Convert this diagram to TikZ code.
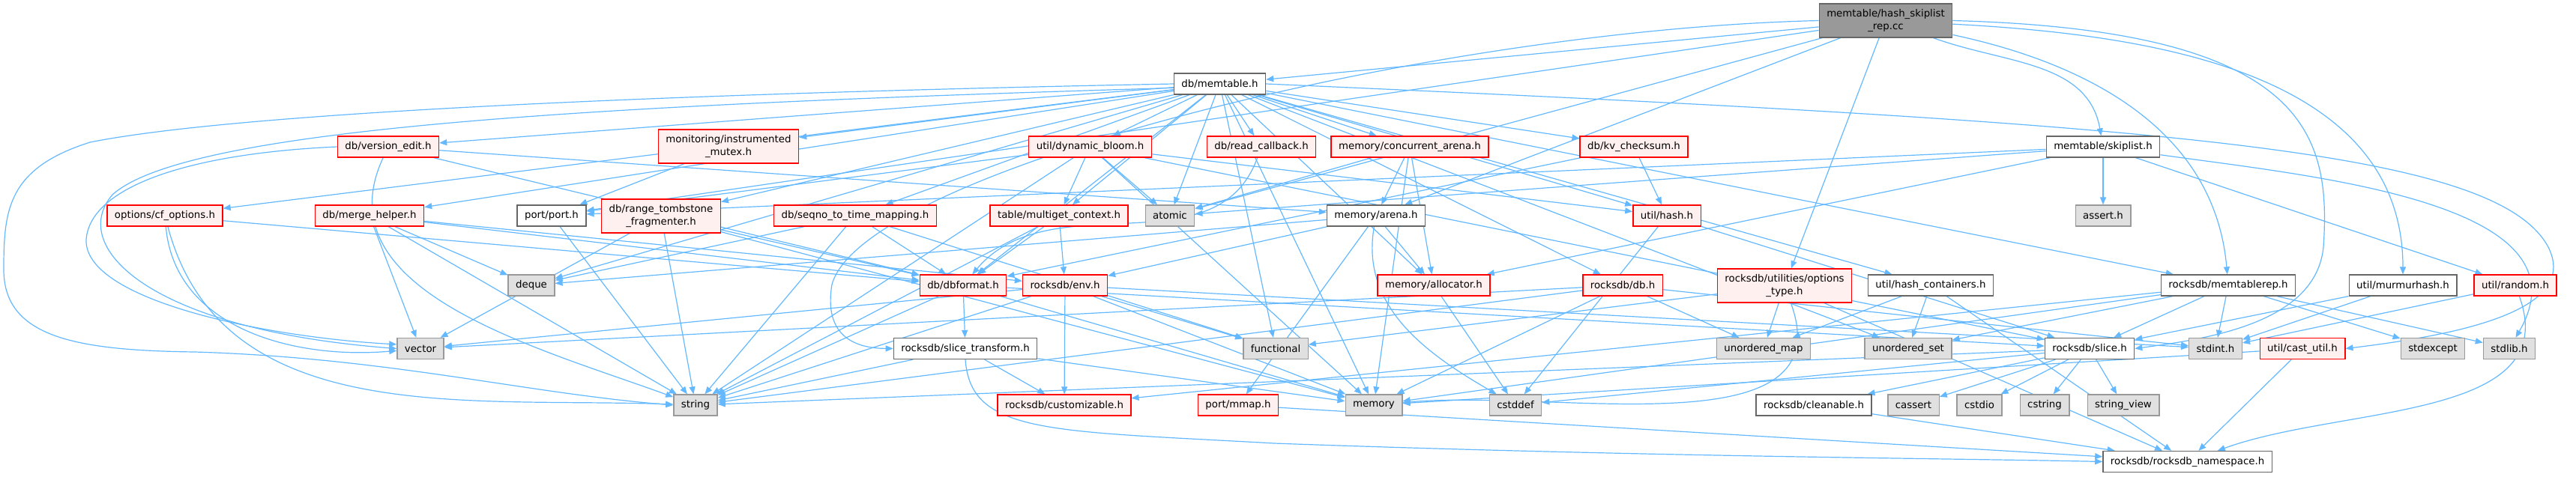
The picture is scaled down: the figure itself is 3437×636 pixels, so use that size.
\documentclass[tikz,border=0pt]{standalone}
\usepackage{fontspec}
\setmainfont{DejaVu Sans}
\usetikzlibrary{arrows.meta}
\definecolor{depblue}{HTML}{63B8FF}
\definecolor{rootfill}{HTML}{999999}
\definecolor{docline}{HTML}{666666}
\definecolor{cutfill}{HTML}{FFF0F0}
\definecolor{cutline}{HTML}{FF0000}
\definecolor{sysfill}{HTML}{E0E0E0}
\definecolor{sysline}{HTML}{999999}
\pgfdeclarelayer{background}
\pgfsetlayers{background,main}

\begin{document}
\begin{tikzpicture}[x=0.75pt,y=-0.75pt,>={Triangle[length=7.5pt,width=6pt]},
 font=\fontsize{10pt}{12.75pt}\selectfont,
 hdr/.style={draw,line width=1pt,minimum height=21pt,inner xsep=7.5pt,inner ysep=2pt,align=center,text=black},
 twoline/.style={minimum height=33.75pt},
 rootbox/.style={hdr,fill=rootfill,draw=docline},
 docbox/.style={hdr,fill=white,draw=docline},
 cutbox/.style={hdr,fill=cutfill,draw=cutline},
 sysbox/.style={hdr,fill=sysfill,draw=sysline},
 dep/.style={color=depblue,line width=0.9pt,->}]
\useasboundingbox (0,0) rectangle (3437,636);

% rows of headers
\node[rootbox,twoline] (root) at (2516,27.5) {memtable/hash\_skiplist\\\_rep.cc};
\node[docbox] (memtable) at (1627.5,112) {db/memtable.h};

\node[cutbox] (versionedit) at (518,196) {db/version\_edit.h};
\node[cutbox,twoline] (instrmutex) at (972,195.5) {monitoring/instrumented\\\_mutex.h};
\node[cutbox] (dynbloom) at (1454.5,196) {util/dynamic\_bloom.h};
\node[cutbox] (readcb) at (1683,196) {db/read\_callback.h};
\node[cutbox] (concarena) at (1881,196) {memory/concurrent\_arena.h};
\node[cutbox] (kvchecksum) at (2180,196) {db/kv\_checksum.h};
\node[docbox] (skiplist) at (2806,196) {memtable/skiplist.h};

\node[cutbox] (cfoptions) at (220,288) {options/cf\_options.h};
\node[cutbox] (mergehelper) at (493,288) {db/merge\_helper.h};
\node[docbox] (port) at (736,288) {port/port.h};
\node[cutbox,twoline] (rtfrag) at (882,288.5) {db/range\_tombstone\\\_fragmenter.h};
\node[cutbox] (seqno) at (1141,288) {db/seqno\_to\_time\_mapping.h};
\node[cutbox] (multiget) at (1413,288) {table/multiget\_context.h};
\node[sysbox] (atomic) at (1561,288) {atomic};
\node[docbox] (arena) at (1836,288) {memory/arena.h};
\node[cutbox] (hash) at (2224,288) {util/hash.h};
\node[sysbox] (asserth) at (2806,288) {assert.h};

\node[sysbox] (deque) at (709,381) {deque};
\node[cutbox] (dbformat) at (1285,381) {db/dbformat.h};
\node[cutbox] (env) at (1421,381) {rocksdb/env.h};
\node[cutbox] (allocator) at (1913,381) {memory/allocator.h};
\node[cutbox] (db) at (2165,381) {rocksdb/db.h};
\node[cutbox,twoline] (optionstype) at (2381,381.5) {rocksdb/utilities/options\\\_type.h};
\node[docbox] (hashcont) at (2576,381) {util/hash\_containers.h};
\node[docbox] (memtablerep) at (2973,381) {rocksdb/memtablerep.h};
\node[docbox] (murmur) at (3206,381) {util/murmurhash.h};
\node[cutbox] (random) at (3356,381) {util/random.h};

\node[sysbox] (vector) at (561,465.5) {vector};
\node[docbox] (slicetf) at (1288,465.5) {rocksdb/slice\_transform.h};
\node[sysbox] (functional) at (1702,465.5) {functional};
\node[sysbox] (umap) at (2353,465.5) {unordered\_map};
\node[sysbox] (uset) at (2546,465.5) {unordered\_set};
\node[docbox] (slice) at (2788,465.5) {rocksdb/slice.h};
\node[sysbox] (stdint) at (2956,465.5) {stdint.h};
\node[cutbox] (castutil) at (3072,465.5) {util/cast\_util.h};
\node[sysbox] (stdexcept) at (3246,465.5) {stdexcept};
\node[sysbox] (stdlib) at (3348,465.5) {stdlib.h};

\node[sysbox] (string) at (928,541) {string};
\node[cutbox] (customizable) at (1420,541) {rocksdb/customizable.h};
\node[cutbox] (mmap) at (1652,541) {port/mmap.h};
\node[sysbox] (memory) at (1833,541) {memory};
\node[sysbox] (cstddef) at (2022,541) {cstddef};
\node[docbox] (cleanable) at (2420,541) {rocksdb/cleanable.h};
\node[sysbox] (cassert) at (2553,541) {cassert};
\node[sysbox] (cstdio) at (2641,541) {cstdio};
\node[sysbox] (cstring) at (2728,541) {cstring};
\node[sysbox] (stringview) at (2833,541) {string\_view};

\node[docbox] (rdbns) at (2918.5,616.5) {rocksdb/rocksdb\_namespace.h};

% include edges, kept under the boxes
\begin{pgfonlayer}{background}
\draw[dep] (root) -- (memtable);
\draw[dep] (root) -- (atomic);
\draw[dep] (root) -- (arena);
\draw[dep] (root) -- (port);
\draw[dep] (root) -- (optionstype);
\draw[dep] (root) to[out=-20,in=100] (skiplist);
\draw[dep] (root) to[out=-12,in=95] (memtablerep);
\draw[dep] (root) to[out=-3,in=90] (murmur);
\draw[dep] (root.east) .. controls (3080,40) and (3110,180) .. (3100,330)
 .. controls (3090,430) and (2950,452) .. (slice.east);
\draw[dep] (root.west) .. controls (1900,40) and (1150,230) .. (1110,380)
 .. controls (1100,440) and (1130,465) .. (slicetf.west);

\draw[dep] (memtable) -- (atomic);
\draw[dep] (memtable) -- (deque);
\draw[dep] (memtable) -- (functional);
\draw[dep] (memtable) -- (memory);
\draw[dep] (memtable) -- (uset);
\draw[dep] (memtable) -- (dbformat);
\draw[dep] (memtable) -- (kvchecksum);
\draw[dep] (memtable) -- (rtfrag);
\draw[dep] (memtable) -- (readcb);
\draw[dep] (memtable) -- (seqno);
\draw[dep] (memtable) -- (versionedit);
\draw[dep] (memtable) -- (allocator);
\draw[dep] (memtable) -- (concarena);
\draw[dep] (memtable) -- (instrmutex);
\draw[dep] (memtable) -- (cfoptions);
\draw[dep] (memtable) -- (db);
\draw[dep] (memtable) -- (memtablerep);
\draw[dep] (memtable) -- (multiget);
\draw[dep] (memtable) -- (dynbloom);
\draw[dep] (memtable) -- (hash);
\draw[dep] (memtable) -- (hashcont);
\draw[dep] (memtable) -- (mergehelper);
\draw[dep] (memtable.west) .. controls (900,125) and (320,150) .. (120,190)
 .. controls (10,225) and (5,280) .. (5,360) .. controls (5,450) and (100,468) .. (260,470)
 .. controls (520,478) and (700,525) .. (string.west);
\draw[dep] (memtable.185) .. controls (800,140) and (250,170) .. (150,260)
 .. controls (90,330) and (200,440) .. (vector.west);
\draw[dep] (memtable.east) .. controls (2900,165) and (3330,200) .. (3400,330)
 .. controls (3440,410) and (3300,445) .. (castutil.east);

\draw[dep] (versionedit) -- (dbformat);
\draw[dep] (versionedit) -- (arena);
\draw[dep] (versionedit) to[out=-115,in=160] (string);
\draw[dep] (versionedit.west) .. controls (250,205) and (120,250) .. (115,320)
 .. controls (112,400) and (350,450) .. (vector.170);
\draw[dep] (instrmutex) -- (port);
\draw[dep] (dynbloom) -- (port);
\draw[dep] (dynbloom) -- (string);
\draw[dep] (dynbloom) -- (multiget);
\draw[dep] (dynbloom) -- (atomic);
\draw[dep] (dynbloom) -- (memory);
\draw[dep] (dynbloom) -- (hash);
\draw[dep] (dynbloom) -- (slice);
\draw[dep] (readcb) to[out=-110,in=50] (dbformat);
\draw[dep] (concarena) -- (atomic);
\draw[dep] (concarena) -- (arena);
\draw[dep] (concarena) -- (memory);
\draw[dep] (concarena) -- (allocator);
\draw[dep] (kvchecksum) -- (dbformat);
\draw[dep] (kvchecksum) -- (hash);
\draw[dep] (skiplist) -- (asserth);
\draw[dep] (skiplist) -- (atomic);
\draw[dep] (skiplist) -- (allocator);
\draw[dep] (skiplist) -- (port);
\draw[dep] (skiplist) -- (random);
\draw[dep] (skiplist) to[out=-8,in=60] (stdlib);

\draw[dep] (cfoptions) -- (dbformat);
\draw[dep] (cfoptions) to[out=-85,in=185] (vector);
\draw[dep] (cfoptions) to[out=-75,in=178] (string);
\draw[dep] (mergehelper) -- (deque);
\draw[dep] (mergehelper) -- (string);
\draw[dep] (mergehelper) -- (vector);
\draw[dep] (mergehelper) -- (dbformat);
\draw[dep] (mergehelper) -- (env);
\draw[dep] (port) -- (string);
\draw[dep] (rtfrag) -- (memory);
\draw[dep] (rtfrag) -- (string);
\draw[dep] (rtfrag) -- (vector);
\draw[dep] (rtfrag) -- (dbformat);
\draw[dep] (seqno) -- (deque);
\draw[dep] (seqno) -- (functional);
\draw[dep] (seqno) -- (string);
\draw[dep] (seqno) -- (dbformat);
\draw[dep] (multiget) -- (string);
\draw[dep] (multiget) -- (dbformat);
\draw[dep] (multiget) -- (env);
\draw[dep] (arena) -- (deque);
\draw[dep] (arena) -- (allocator);
\draw[dep] (arena) -- (mmap);
\draw[dep] (arena) -- (env);
\draw[dep] (arena) to[out=-100,in=150] (cstddef);
\draw[dep] (hash) -- (cstddef);
\draw[dep] (hash) -- (slice);

\draw[dep] (dbformat) -- (memory);
\draw[dep] (dbformat) -- (string);
\draw[dep] (dbformat) -- (slice);
\draw[dep] (dbformat) -- (slicetf);
\draw[dep] (env) -- (stdint);
\draw[dep] (env) -- (functional);
\draw[dep] (env) -- (memory);
\draw[dep] (env) -- (string);
\draw[dep] (env) -- (vector);
\draw[dep] (env) -- (customizable);
\draw[dep] (allocator) -- (cstddef);
\draw[dep] (db) -- (stdint);
\draw[dep] (db) -- (memory);
\draw[dep] (db) -- (string);
\draw[dep] (db) -- (umap);
\draw[dep] (db) -- (vector);
\draw[dep] (optionstype) -- (functional);
\draw[dep] (optionstype) -- (umap);
\draw[dep] (optionstype) -- (rdbns);
\draw[dep] (optionstype) to[out=-70,in=5] (memory);
\draw[dep] (hashcont) -- (umap);
\draw[dep] (hashcont) -- (uset);
\draw[dep] (hashcont) -- (rdbns);
\draw[dep] (memtablerep) -- (customizable);
\draw[dep] (memtablerep) -- (slice);
\draw[dep] (memtablerep) -- (stdint);
\draw[dep] (memtablerep) -- (stdlib);
\draw[dep] (memtablerep) -- (memory);
\draw[dep] (memtablerep) -- (stdexcept);
\draw[dep] (memtablerep) -- (uset);
\draw[dep] (murmur) -- (stdint);
\draw[dep] (murmur) -- (slice);
\draw[dep] (random) -- (stdint);
\draw[dep] (random) to[out=-70,in=20] (rdbns);

\draw[dep] (slicetf) -- (memory);
\draw[dep] (slicetf) -- (string);
\draw[dep] (slicetf) -- (customizable);
\draw[dep] (slicetf.south) .. controls (1295,580) and (1400,575) .. (1700,592)
 .. controls (2200,610) and (2600,612) .. (rdbns.west);
\draw[dep] (slice) -- (cassert);
\draw[dep] (slice) -- (cstddef);
\draw[dep] (slice) -- (cstdio);
\draw[dep] (slice) -- (cstring);
\draw[dep] (slice) -- (string);
\draw[dep] (slice) -- (stringview);
\draw[dep] (slice) -- (cleanable);
\draw[dep] (castutil) -- (rdbns);
\draw[dep] (castutil) -- (memory);
\draw[dep] (cleanable) -- (rdbns);
\draw[dep] (mmap) -- (rdbns);
\end{pgfonlayer}
\end{tikzpicture}
\end{document}
